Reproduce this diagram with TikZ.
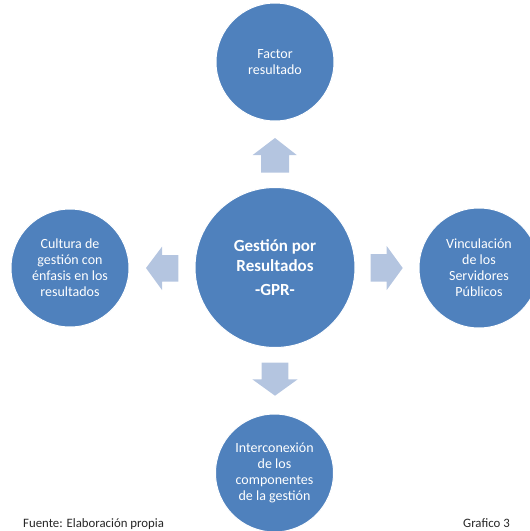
\documentclass[tikz,border=0pt]{standalone}
\usepackage{fontspec}
\setmainfont{Carlito}
\definecolor{cblue}{HTML}{4F81BD}
\definecolor{ablue}{HTML}{B4C5E0}
\tikzset{
  bubble/.style={circle, fill=cblue, draw=white, line width=1pt, text=white, align=center, inner sep=0pt, font=\fontsize{14}{16}\selectfont},
  blockarrow/.style={fill=ablue, draw=none},
  foot/.style={anchor=base west, inner sep=0pt, font=\fontsize{12.8}{14}\selectfont, text=black!85}
}
\begin{document}
\begin{tikzpicture}[x=1pt,y=-1pt]
\useasboundingbox (0,0) rectangle (530,531);
\clip (0,0) rectangle (530,531);
\node[bubble, minimum size=160pt, font=\fontsize{17}{20}\selectfont\bfseries] (c) at (275,267.5) {Gestión por\\Resultados\\[4pt]-GPR-};
\node[bubble, minimum size=118pt] (t) at (275,62) {Factor\\resultado};
\node[bubble, minimum size=118pt] (l) at (70,268) {Cultura de\\gestión con\\énfasis en los\\resultados};
\node[bubble, minimum size=120pt] (r) at (479,268) {Vinculación\\de los\\Servidores\\Públicos};
\node[bubble, minimum size=118pt] (b) at (274.5,473) {Interconexión\\de los\\componentes\\de la gestión};
% block arrows
\fill[blockarrow] (275,138) -- (296.7,155) -- (289,155) -- (289,172.7) -- (261,172.7) -- (261,155) -- (252.7,155) -- cycle;
\fill[blockarrow] (146,268) -- (162,246.7) -- (162,255) -- (178.3,255) -- (178.3,281.7) -- (162,281.7) -- (162,290) -- cycle;
\fill[blockarrow] (402.7,268) -- (386.7,246) -- (386.7,254) -- (370.7,254) -- (370.7,281.7) -- (386.7,281.7) -- (386.7,290) -- cycle;
\fill[blockarrow] (275,395.7) -- (297.7,379.3) -- (288.3,379.3) -- (288.3,362.7) -- (261.7,362.7) -- (261.7,379.3) -- (252.3,379.3) -- cycle;
\node[foot] (f1) at (23,527) {Fuente: Elaboración propia};
\node[foot] (f2) at (463,527) {Grafico 3};
\end{tikzpicture}
\end{document}
